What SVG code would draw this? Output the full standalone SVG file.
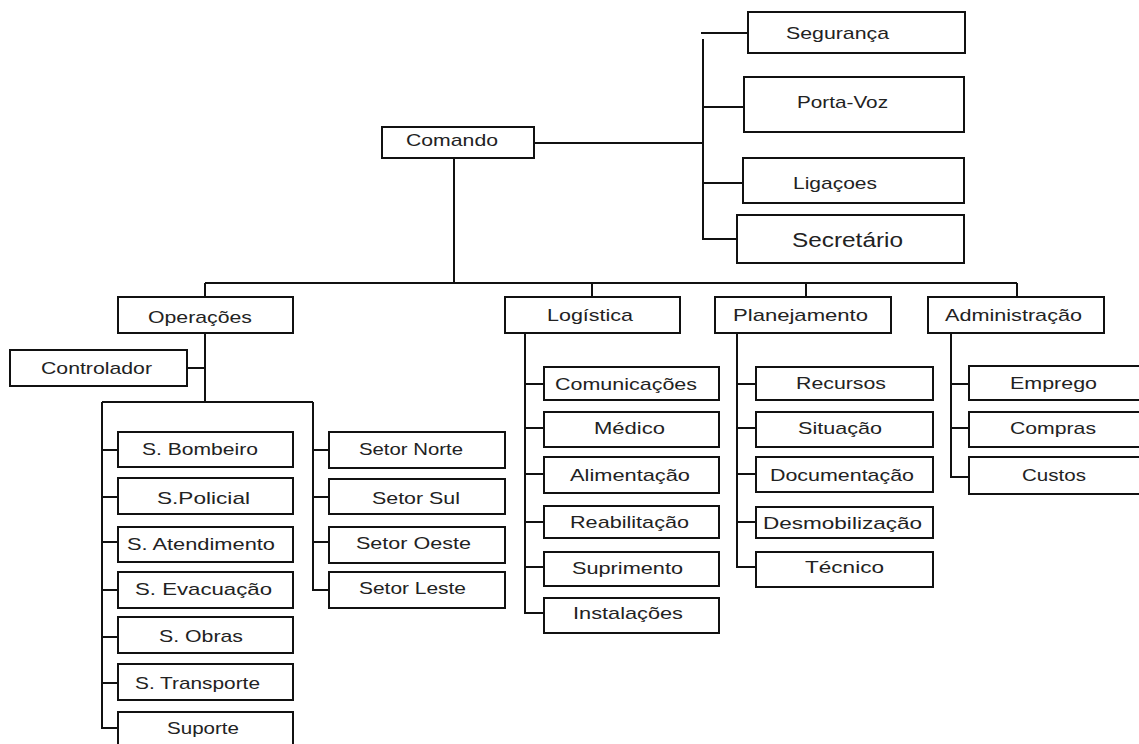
<svg xmlns="http://www.w3.org/2000/svg" width="1139" height="744" viewBox="0 0 1139 744">
<style>
.box{fill:#fff;stroke:#111;stroke-width:2}
.t{font-family:"Liberation Sans",Arial,sans-serif;font-size:17px;fill:#222;text-anchor:middle}
.c{stroke:#111;stroke-width:2;fill:none}
</style>
<rect width="1139" height="744" fill="#fff"/>
<g id="connectors" class="c">
<path d="M534 143H702"/>
<path d="M701 33H748M703 39V239H737M703 107H744M703 183H743"/>
<path d="M454 158V283M205 283H1017M205 283V297M592 283V297M806 283V297M1017 283V297"/>
<path d="M205 333V402M187 368H205M102 402H313M102 402V728H118M102 450H118M102 497H118M102 542H118M102 590H118M102 637H118M102 683H118"/>
<path d="M313 402V590H329M313 450H329M313 497H329M313 542H329"/>
<path d="M525 333V613H544M525 384H544M525 428H544M525 474H544M525 522H544M525 567H544"/>
<path d="M737 333V567H756M737 384H756M737 428H756M737 474H756M737 522H756"/>
<path d="M951 333V477H969M951 384H969M951 428H969"/>
</g>
<g id="comando"><rect class="box" x="382" y="127" width="152" height="31"/><text class="t" x="452" y="146" textLength="92" lengthAdjust="spacingAndGlyphs">Comando</text></g>
<g id="seguranca"><rect class="box" x="748" y="12" width="217" height="41"/><text class="t" x="837.5" y="39" textLength="103" lengthAdjust="spacingAndGlyphs">Segurança</text></g>
<g id="portavoz"><rect class="box" x="744" y="77" width="220" height="55"/><text class="t" x="842.5" y="108" textLength="91" lengthAdjust="spacingAndGlyphs">Porta-Voz</text></g>
<g id="ligacoes"><rect class="box" x="743" y="158" width="221" height="45"/><text class="t" x="835" y="189" textLength="84" lengthAdjust="spacingAndGlyphs">Ligaçoes</text></g>
<g id="secretario"><rect class="box" x="737" y="215" width="227" height="48"/><text class="t" x="847.5" y="247" style="font-size:19.5px" textLength="111" lengthAdjust="spacingAndGlyphs">Secretário</text></g>
<g id="operacoes"><rect class="box" x="118" y="297" width="175" height="36"/><text class="t" x="200" y="323" textLength="104" lengthAdjust="spacingAndGlyphs">Operações</text></g>
<g id="logistica"><rect class="box" x="505" y="297" width="175" height="36"/><text class="t" x="590" y="321" textLength="86" lengthAdjust="spacingAndGlyphs">Logística</text></g>
<g id="planejamento"><rect class="box" x="715" y="297" width="176" height="36"/><text class="t" x="800.5" y="321" textLength="135" lengthAdjust="spacingAndGlyphs">Planejamento</text></g>
<g id="administracao"><rect class="box" x="928" y="297" width="176" height="36"/><text class="t" x="1013.5" y="321" textLength="137" lengthAdjust="spacingAndGlyphs">Administração</text></g>
<g id="controlador"><rect class="box" x="10" y="350" width="177" height="36"/><text class="t" x="96.5" y="374" textLength="111" lengthAdjust="spacingAndGlyphs">Controlador</text></g>
<g id="s-bombeiro"><rect class="box" x="118" y="432" width="175" height="35"/><text class="t" x="200" y="455" textLength="116" lengthAdjust="spacingAndGlyphs">S. Bombeiro</text></g>
<g id="s-policial"><rect class="box" x="118" y="478" width="175" height="36"/><text class="t" x="203.5" y="504" textLength="93" lengthAdjust="spacingAndGlyphs">S.Policial</text></g>
<g id="s-atendimento"><rect class="box" x="118" y="527" width="175" height="35"/><text class="t" x="201" y="550" textLength="148" lengthAdjust="spacingAndGlyphs">S. Atendimento</text></g>
<g id="s-evacuacao"><rect class="box" x="118" y="572" width="175" height="36"/><text class="t" x="203.5" y="595" textLength="137" lengthAdjust="spacingAndGlyphs">S. Evacuação</text></g>
<g id="s-obras"><rect class="box" x="118" y="617" width="175" height="36"/><text class="t" x="201" y="642" textLength="84" lengthAdjust="spacingAndGlyphs">S. Obras</text></g>
<g id="s-transporte"><rect class="box" x="118" y="664" width="175" height="36"/><text class="t" x="197.5" y="689" textLength="125" lengthAdjust="spacingAndGlyphs">S. Transporte</text></g>
<g id="suporte"><rect class="box" x="118" y="712" width="175" height="36"/><text class="t" x="203" y="734" textLength="72" lengthAdjust="spacingAndGlyphs">Suporte</text></g>
<g id="setor-norte"><rect class="box" x="329" y="432" width="176" height="36"/><text class="t" x="411" y="455" textLength="104" lengthAdjust="spacingAndGlyphs">Setor Norte</text></g>
<g id="setor-sul"><rect class="box" x="329" y="479" width="176" height="35"/><text class="t" x="416" y="504" textLength="88" lengthAdjust="spacingAndGlyphs">Setor Sul</text></g>
<g id="setor-oeste"><rect class="box" x="329" y="527" width="176" height="36"/><text class="t" x="413.5" y="549" textLength="115" lengthAdjust="spacingAndGlyphs">Setor Oeste</text></g>
<g id="setor-leste"><rect class="box" x="329" y="572" width="176" height="36"/><text class="t" x="412.5" y="594" textLength="107" lengthAdjust="spacingAndGlyphs">Setor Leste</text></g>
<g id="comunicacoes"><rect class="box" x="544" y="367" width="175" height="33"/><text class="t" x="626" y="390" textLength="142" lengthAdjust="spacingAndGlyphs">Comunicações</text></g>
<g id="medico"><rect class="box" x="544" y="412" width="175" height="35"/><text class="t" x="629.5" y="434" textLength="71" lengthAdjust="spacingAndGlyphs">Médico</text></g>
<g id="alimentacao"><rect class="box" x="544" y="457" width="175" height="36"/><text class="t" x="630" y="481" textLength="120" lengthAdjust="spacingAndGlyphs">Alimentação</text></g>
<g id="reabilitacao"><rect class="box" x="544" y="506" width="175" height="32"/><text class="t" x="629.5" y="528" textLength="119" lengthAdjust="spacingAndGlyphs">Reabilitação</text></g>
<g id="suprimento"><rect class="box" x="544" y="552" width="175" height="34"/><text class="t" x="627.5" y="574" textLength="111" lengthAdjust="spacingAndGlyphs">Suprimento</text></g>
<g id="instalacoes"><rect class="box" x="544" y="598" width="175" height="35"/><text class="t" x="628" y="619" textLength="110" lengthAdjust="spacingAndGlyphs">Instalações</text></g>
<g id="recursos"><rect class="box" x="756" y="367" width="177" height="33"/><text class="t" x="841" y="389" textLength="90" lengthAdjust="spacingAndGlyphs">Recursos</text></g>
<g id="situacao"><rect class="box" x="756" y="412" width="177" height="35"/><text class="t" x="840" y="434" textLength="84" lengthAdjust="spacingAndGlyphs">Situação</text></g>
<g id="documentacao"><rect class="box" x="756" y="457" width="177" height="35"/><text class="t" x="842" y="481" textLength="144" lengthAdjust="spacingAndGlyphs">Documentação</text></g>
<g id="desmobilizacao"><rect class="box" x="756" y="507" width="177" height="31"/><text class="t" x="842.5" y="529" textLength="159" lengthAdjust="spacingAndGlyphs">Desmobilização</text></g>
<g id="tecnico"><rect class="box" x="756" y="552" width="177" height="35"/><text class="t" x="844.5" y="573" textLength="79" lengthAdjust="spacingAndGlyphs">Técnico</text></g>
<g id="emprego"><rect class="box" x="969" y="366" width="176" height="34"/><text class="t" x="1053.5" y="389" textLength="87" lengthAdjust="spacingAndGlyphs">Emprego</text></g>
<g id="compras"><rect class="box" x="969" y="412" width="176" height="35"/><text class="t" x="1053" y="434" textLength="86" lengthAdjust="spacingAndGlyphs">Compras</text></g>
<g id="custos"><rect class="box" x="969" y="457" width="176" height="37"/><text class="t" x="1054" y="481" textLength="64" lengthAdjust="spacingAndGlyphs">Custos</text></g>
</svg>
